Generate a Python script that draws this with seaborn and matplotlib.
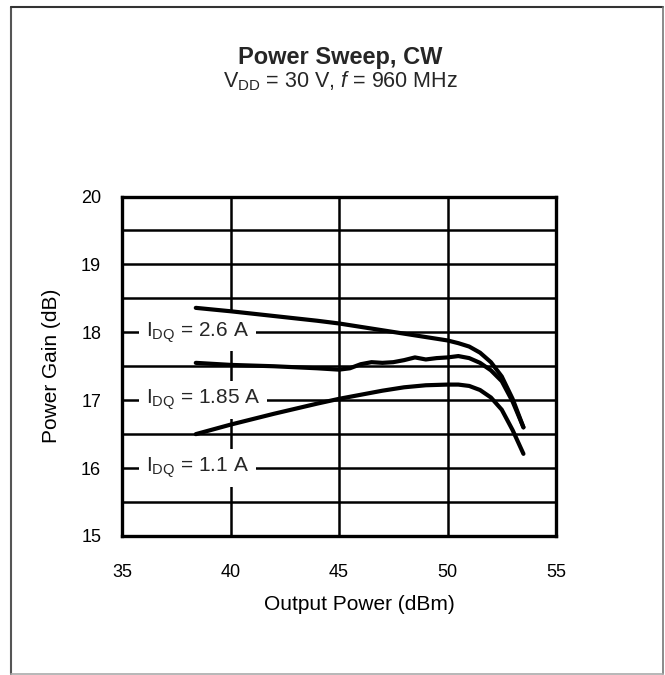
import numpy as np
import pandas as pd
import matplotlib
matplotlib.use('Agg')
import matplotlib.pyplot as plt
from matplotlib.lines import Line2D
import seaborn as sns

# output power (dBm) and power gain (dB) for each quiescent current
pout_26 = [38.4, 40, 42, 44, 45, 46, 47, 48, 49, 50, 50.5, 51, 51.5, 52, 52.5, 53, 53.5]
gain_26 = [18.36, 18.31, 18.24, 18.17, 18.13, 18.08, 18.03, 17.98, 17.93, 17.88, 17.84, 17.79,
           17.70, 17.56, 17.35, 17.02, 16.60]

pout_185 = [38.4, 40, 42, 44, 45, 45.5, 46, 46.5, 47, 47.5, 48, 48.5, 49, 49.5, 50, 50.5, 51,
            51.5, 52, 52.5, 53, 53.5]
gain_185 = [17.55, 17.52, 17.50, 17.47, 17.45, 17.47, 17.53, 17.56, 17.55, 17.56, 17.59, 17.63,
            17.60, 17.62, 17.63, 17.65, 17.62, 17.55, 17.44, 17.28, 16.98, 16.60]

pout_11 = [38.4, 40, 42, 44, 45, 46, 47, 48, 49, 50, 50.5, 51, 51.5, 52, 52.5, 53, 53.5]
gain_11 = [16.50, 16.64, 16.80, 16.95, 17.02, 17.08, 17.14, 17.19, 17.22, 17.23, 17.23, 17.21,
           17.15, 17.04, 16.86, 16.56, 16.21]

curve_labels = [r'I$_\mathregular{DQ}$ = 2.6 A', r'I$_\mathregular{DQ}$ = 1.85 A', r'I$_\mathregular{DQ}$ = 1.1 A']
label_levels = [18, 17, 16]

x_ticks = [35, 40, 45, 50, 55]
y_ticks = [15, 16, 17, 18, 19, 20]

sns.set_theme(style='white')
plt.rcParams['font.family'] = ['Liberation Sans', 'DejaVu Sans']
plt.rcParams['mathtext.fontset'] = 'custom'
plt.rcParams['mathtext.rm'] = 'Liberation Sans'
plt.rcParams['mathtext.it'] = 'Liberation Sans:italic'

W, H = 665, 675
fig = plt.figure(figsize=(W / 100, H / 100), dpi=100)
ax = fig.add_axes([122 / W, 1 - 536 / H, (556 - 122) / W, (536 - 196.5) / H])

# grid: every 0.5 dB horizontally, 40/45/50 vertically
for g in np.arange(15.5, 20, 0.5):
    ax.axhline(g, color='black', lw=1.8, zorder=1)
for g in [40, 45, 50]:
    ax.axvline(g, color='black', lw=1.8, zorder=1)

for xs, ys in [(pout_26, gain_26), (pout_185, gain_185), (pout_11, gain_11)]:
    sns.lineplot(x=xs, y=ys, ax=ax, color='black', lw=3.0, sort=False, estimator=None,
                 zorder=4, solid_capstyle='round', solid_joinstyle='round')

for lab, lev in zip(curve_labels, label_levels):
    ax.text(36.1, lev, lab, fontsize=15, ha='left', va='center', zorder=3,
            bbox=dict(facecolor='white', edgecolor='none', pad=5))

ax.set_xlim(35, 55)
ax.set_ylim(15, 20)
ax.set_xticks(x_ticks)
ax.set_yticks(y_ticks)
ax.tick_params(axis='both', length=0, labelsize=13, colors='black')
ax.tick_params(axis='y', pad=15)
ax.tick_params(axis='x', pad=20.5)
for s in ax.spines.values():
    s.set_color('black')
    s.set_linewidth(2.4)
    s.set_zorder(5)

ax.set_xlabel('Output Power (dBm)', fontsize=15, color='black')
ax.set_ylabel('Power Gain (dB)', fontsize=15, color='black')
ax.xaxis.set_label_coords((359 - 122) / (556 - 122), -(605 - 536) / (536 - 196.5))
ax.xaxis.label.set_va('center')
ax.yaxis.set_label_coords(-(122 - 52) / (556 - 122), 0.5)
ax.yaxis.label.set_va('center')

cx = 340 / W
fig.text(cx, 1 - 64 / H, 'Power Sweep, CW', fontsize=17, fontweight='bold', ha='center', va='baseline')
fig.text(cx, 1 - 87 / H, r'V$_\mathregular{DD}$ = 30 V, $\mathit{f}$ = 960 MHz', fontsize=15.5,
         ha='center', va='baseline')

# outer frame of the figure panel
fig.add_artist(Line2D([11 / W, 11 / W], [1 - 7 / H, 1 - 674 / H], color='#555555', lw=1.5))
fig.add_artist(Line2D([11 / W, 663 / W], [1 - 7 / H, 1 - 7 / H], color='#333333', lw=1.5))
fig.add_artist(Line2D([663 / W, 663 / W], [1 - 7 / H, 1 - 674 / H], color='#777777', lw=1.2))
fig.add_artist(Line2D([11 / W, 663 / W], [1 - 674 / H, 1 - 674 / H], color='#aaaaaa', lw=1.2))

fig.savefig('out.png', dpi=100)
